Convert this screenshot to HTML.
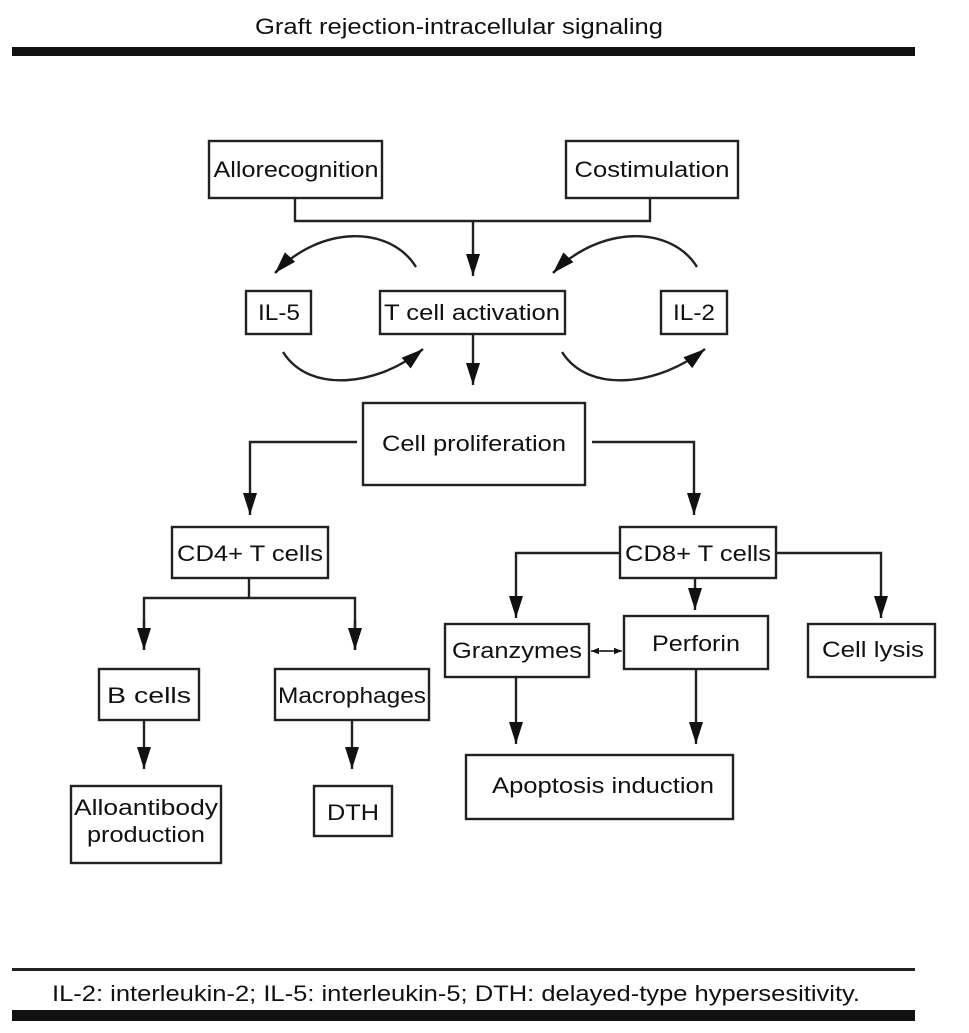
<!DOCTYPE html>
<html><head><meta charset="utf-8"><style>
html,body{margin:0;padding:0;background:#fff;}
svg{display:block;}
text{font-family:"Liberation Sans",sans-serif;font-size:22px;fill:#111;}
</style></head><body>
<svg width="969" height="1033" viewBox="0 0 969 1033" xmlns="http://www.w3.org/2000/svg">
<defs>
<marker id="a" viewBox="0 0 22 14" refX="22" refY="7" markerWidth="22" markerHeight="14" markerUnits="userSpaceOnUse" orient="auto"><path d="M0,0 L22,7 L0,14 z" fill="#111"/></marker>
<marker id="s" viewBox="0 0 10 10" refX="10" refY="5" markerWidth="8" markerHeight="8" markerUnits="userSpaceOnUse" orient="auto"><path d="M0,1 L10,5 L0,9 z" fill="#111"/></marker>
</defs>
<text x="459" y="34" text-anchor="middle" textLength="408" lengthAdjust="spacingAndGlyphs">Graft rejection-intracellular signaling</text>
<rect x="12" y="47" width="903" height="9" fill="#111"/>
<g fill="none" stroke="#222" stroke-width="2.4">
<rect x="209" y="141" width="173" height="57"/>
<rect x="566" y="141" width="172" height="57"/>
<rect x="246" y="291" width="65" height="43"/>
<rect x="380" y="291" width="185" height="43"/>
<rect x="661" y="291" width="66" height="43"/>
<rect x="363" y="403" width="222" height="82"/>
<rect x="172" y="527" width="156" height="51"/>
<rect x="620" y="527" width="156" height="51"/>
<rect x="99" y="669" width="100" height="51"/>
<rect x="275" y="669" width="154" height="51"/>
<rect x="71" y="786" width="150" height="77"/>
<rect x="314" y="786" width="78" height="50"/>
<rect x="445" y="624" width="144" height="53"/>
<rect x="624" y="616" width="144" height="53"/>
<rect x="808" y="624" width="127" height="53"/>
<rect x="466" y="755" width="267" height="64"/>
<path d="M295,198 V221 H650 V198"/>
<path d="M473,221 V276" marker-end="url(#a)"/>
<path d="M473,334 V385" marker-end="url(#a)"/>
<path d="M416,267 C390,225 320,225 275,273" marker-end="url(#a)"/>
<path d="M283,352 C310,395 380,385 423,349" marker-end="url(#a)"/>
<path d="M697,267 C671,225 600,225 553,273" marker-end="url(#a)"/>
<path d="M562,352 C589,395 660,385 705,349" marker-end="url(#a)"/>
<path d="M357,442 H250 V515" marker-end="url(#a)"/>
<path d="M592,442 H694 V515" marker-end="url(#a)"/>
<path d="M249,578 V598"/>
<path d="M144,650 V598 H355 V650" />
<path d="M144,620 V650" marker-end="url(#a)"/>
<path d="M355,620 V650" marker-end="url(#a)"/>
<path d="M144,720 V769" marker-end="url(#a)"/>
<path d="M352,720 V769" marker-end="url(#a)"/>
<path d="M620,553 H516 V618" marker-end="url(#a)"/>
<path d="M776,553 H881 V618" marker-end="url(#a)"/>
<path d="M695,578 V610" marker-end="url(#a)"/>
<path d="M516,677 V744" marker-end="url(#a)"/>
<path d="M696,669 V744" marker-end="url(#a)"/>
<path d="M600,651 H622" stroke-width="1.6" marker-end="url(#s)"/>
<path d="M612,651 H591" stroke-width="1.6" marker-end="url(#s)"/>
</g>
<text x="296" y="177" text-anchor="middle" textLength="165" lengthAdjust="spacingAndGlyphs">Allorecognition</text>
<text x="652" y="177" text-anchor="middle" textLength="155" lengthAdjust="spacingAndGlyphs">Costimulation</text>
<text x="279" y="320" text-anchor="middle" textLength="42" lengthAdjust="spacingAndGlyphs">IL-5</text>
<text x="472" y="320" text-anchor="middle" textLength="176" lengthAdjust="spacingAndGlyphs">T cell activation</text>
<text x="694" y="320" text-anchor="middle" textLength="42" lengthAdjust="spacingAndGlyphs">IL-2</text>
<text x="474" y="451" text-anchor="middle" textLength="184" lengthAdjust="spacingAndGlyphs">Cell proliferation</text>
<text x="250" y="561" text-anchor="middle" textLength="146" lengthAdjust="spacingAndGlyphs">CD4+ T cells</text>
<text x="698" y="561" text-anchor="middle" textLength="146" lengthAdjust="spacingAndGlyphs">CD8+ T cells</text>
<text x="149" y="703" text-anchor="middle" textLength="84" lengthAdjust="spacingAndGlyphs">B cells</text>
<text x="352" y="703" text-anchor="middle" textLength="148" lengthAdjust="spacingAndGlyphs">Macrophages</text>
<text x="146" y="815" text-anchor="middle" textLength="144" lengthAdjust="spacingAndGlyphs">Alloantibody</text>
<text x="146" y="842" text-anchor="middle" textLength="118" lengthAdjust="spacingAndGlyphs">production</text>
<text x="353" y="820" text-anchor="middle" textLength="52" lengthAdjust="spacingAndGlyphs">DTH</text>
<text x="517" y="658" text-anchor="middle" textLength="130" lengthAdjust="spacingAndGlyphs">Granzymes</text>
<text x="696" y="651" text-anchor="middle" textLength="88" lengthAdjust="spacingAndGlyphs">Perforin</text>
<text x="873" y="657" text-anchor="middle" textLength="102" lengthAdjust="spacingAndGlyphs">Cell lysis</text>
<text x="603" y="793" text-anchor="middle" textLength="222" lengthAdjust="spacingAndGlyphs">Apoptosis induction</text>
<rect x="12" y="968" width="903" height="3" fill="#222"/>
<text x="52" y="1001" textLength="808" lengthAdjust="spacingAndGlyphs">IL-2: interleukin-2; IL-5: interleukin-5; DTH: delayed-type hypersesitivity.</text>
<rect x="12" y="1010" width="903" height="11" fill="#111"/>
</svg>
</body></html>
